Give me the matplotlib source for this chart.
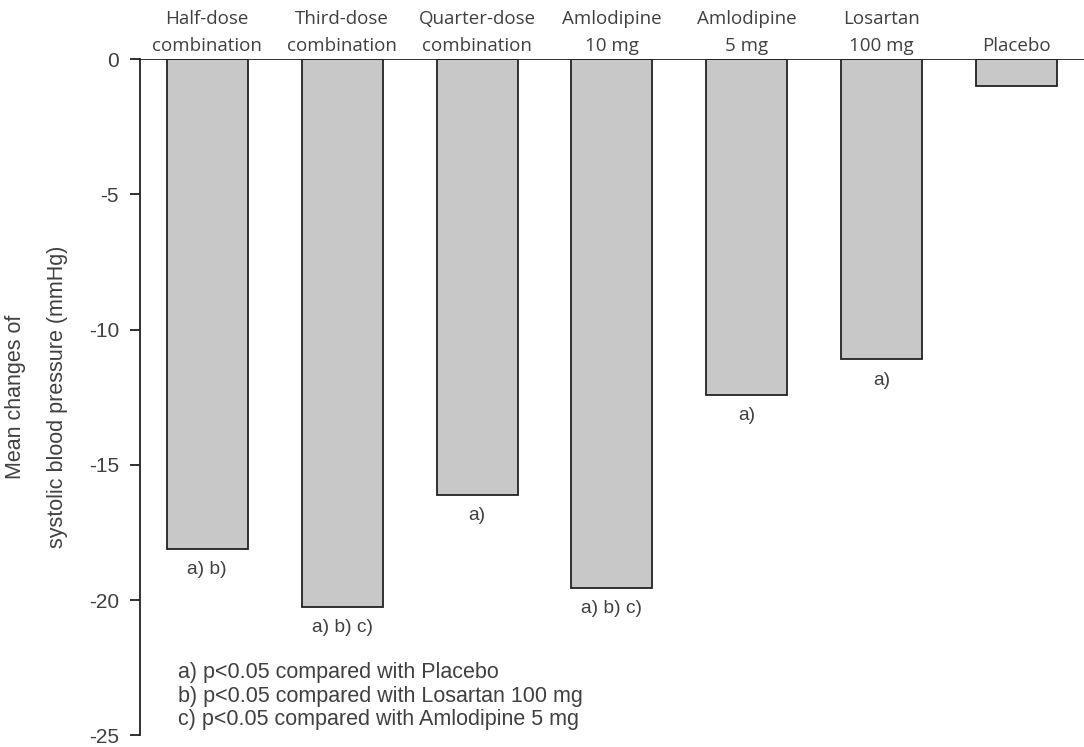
import numpy as np
import matplotlib.pyplot as plt

# Data
groups = ['Half-dose\ncombination', 'Third-dose\ncombination', 'Quarter-dose\ncombination',
          'Amlodipine\n10 mg', 'Amlodipine\n5 mg', 'Losartan\n100 mg', 'Placebo']
sbp_change = [-18.1, -20.25, -16.1, -19.55, -12.4, -11.1, -1.0]
signif = ['a) b)', 'a) b) c)', 'a)', 'a) b) c)', 'a)', 'a)', '']
footnotes = ['a) p<0.05 compared with Placebo',
             'b) p<0.05 compared with Losartan 100 mg',
             'c) p<0.05 compared with Amlodipine 5 mg']
yticks = [0, -5, -10, -15, -20, -25]

txt = '#404040'
sans = ['Liberation Sans', 'DejaVu Sans']
cal = ['Open Sans', 'DejaVu Sans']

fig = plt.figure(figsize=(10.84, 7.47), dpi=100)
ax = fig.add_axes([0.129, 0.0155, 0.871, 0.9055])

x = np.arange(len(groups))
ax.bar(x, sbp_change, width=0.6, color='#c8c8c8', edgecolor='#222222', linewidth=1.3, zorder=2)
ax.axhline(0, color='#222222', lw=1.3, zorder=3)

ax.set_xlim(-0.5, 6.5)
ax.set_ylim(-25, 0)
for s in ['top', 'right', 'bottom']:
    ax.spines[s].set_visible(False)
ax.spines['left'].set_color('#222222')
ax.spines['left'].set_linewidth(1.3)
ax.set_xticks([])
ax.set_yticks(yticks)
ax.set_yticklabels([str(v) for v in yticks], family=sans, fontsize=15, color=txt)
ax.tick_params(axis='y', length=7, width=1.3, color='#222222', pad=8)

ax.set_ylabel('Mean changes of\nsystolic blood pressure (mmHg)', family=sans,
              fontsize=15.5, color=txt, labelpad=15, linespacing=2.3)

# Group names above the zero line
for xi, name in zip(x, groups):
    ax.annotate(name, (xi, 0), xytext=(0, 3), textcoords='offset points',
                ha='center', va='bottom', family=cal, fontsize=13.5, color=txt,
                linespacing=1.65, annotation_clip=False)

# Significance marks below bars
for xi, v, s in zip(x, sbp_change, signif):
    if s:
        ax.annotate(s, (xi, v), xytext=(0, -9), textcoords='offset points',
                    ha='center', va='top', family=sans, fontsize=13.8, color=txt)

ax.text(0.04, 0.108, '\n'.join(footnotes), transform=ax.transAxes, ha='left', va='top',
        family=sans, fontsize=15.5, color=txt, linespacing=1.15)

fig.savefig('out.png', dpi=100)
